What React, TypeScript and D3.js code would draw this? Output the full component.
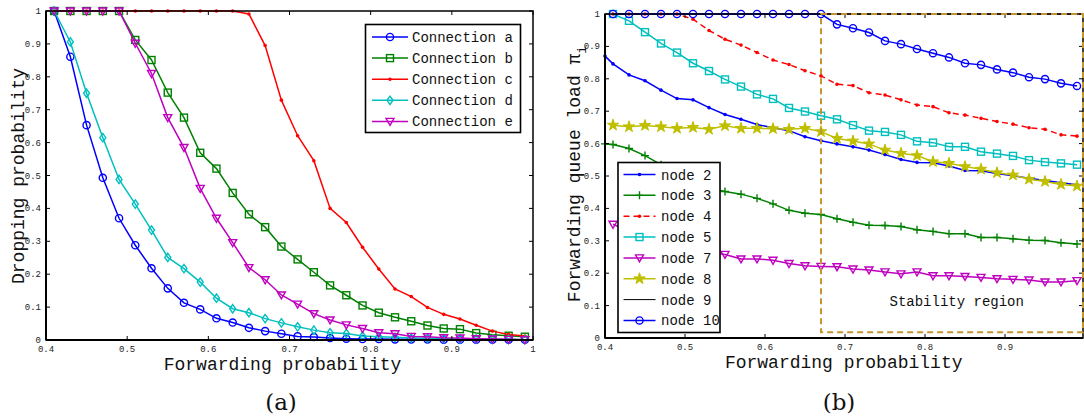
import React from "react";
import * as d3 from "d3";

// ---------- Data: chart (a) ----------
const xsA = [0.41, 0.43, 0.45, 0.47, 0.49, 0.51, 0.53, 0.55, 0.57, 0.59, 0.61, 0.63, 0.65, 0.67, 0.69, 0.71, 0.73, 0.75, 0.77, 0.79, 0.81, 0.83, 0.85, 0.87, 0.89, 0.91, 0.93, 0.95, 0.97, 0.99];
const connA = [1, 0.861, 0.653, 0.493, 0.370, 0.288, 0.218, 0.157, 0.113, 0.093, 0.066, 0.053, 0.037, 0.027, 0.019, 0.011, 0.009, 0.006, 0.004, 0.003, 0.003, 0.002, 0.002, 0.002, 0.001, 0.001, 0.001, 0.001, 0.001, 0.001];
const connB = [1, 1, 1, 1, 1, 0.912, 0.851, 0.752, 0.676, 0.569, 0.521, 0.447, 0.382, 0.343, 0.284, 0.245, 0.206, 0.166, 0.136, 0.105, 0.083, 0.069, 0.057, 0.044, 0.035, 0.033, 0.021, 0.016, 0.013, 0.010];
const connC = [1, 1, 1, 1, 1, 1, 1, 1, 1, 1, 1, 1, 0.991, 0.895, 0.729, 0.621, 0.545, 0.400, 0.357, 0.282, 0.216, 0.155, 0.132, 0.099, 0.078, 0.064, 0.045, 0.027, 0.017, 0.012];
const connD = [1, 0.906, 0.750, 0.615, 0.488, 0.413, 0.334, 0.251, 0.217, 0.176, 0.127, 0.095, 0.083, 0.065, 0.052, 0.040, 0.030, 0.022, 0.020, 0.012, 0.010, 0.008, 0.006, 0.005, 0.004, 0.003, 0.003, 0.002, 0.002, 0.001];
const connE = [1, 1, 1, 1, 1, 0.902, 0.810, 0.676, 0.585, 0.461, 0.370, 0.296, 0.220, 0.183, 0.137, 0.109, 0.080, 0.061, 0.046, 0.035, 0.022, 0.019, 0.011, 0.010, 0.007, 0.006, 0.004, 0.003, 0.002, 0.001];
const ticksXA = [0.4, 0.5, 0.6, 0.7, 0.8, 0.9, 1];
const ticksXALabels = ["0.4", "0.5", "0.6", "0.7", "0.8", "0.9", "1"];
const ticksY = [0, 0.1, 0.2, 0.3, 0.4, 0.5, 0.6, 0.7, 0.8, 0.9, 1];
const ticksYLabels = ["0", "0.1", "0.2", "0.3", "0.4", "0.5", "0.6", "0.7", "0.8", "0.9", "1"];

// ---------- Data: chart (b) ----------
const xsB = [0.41, 0.43, 0.45, 0.47, 0.49, 0.51, 0.53, 0.55, 0.57, 0.59, 0.61, 0.63, 0.65, 0.67, 0.69, 0.71, 0.73, 0.75, 0.77, 0.79, 0.81, 0.83, 0.85, 0.87, 0.89, 0.91, 0.93, 0.95, 0.97, 0.99];
const xsB0 = [0.40, 0.41, 0.43, 0.45, 0.47, 0.49, 0.51, 0.53, 0.55, 0.57, 0.59, 0.61, 0.63, 0.65, 0.67, 0.69, 0.71, 0.73, 0.75, 0.77, 0.79, 0.81, 0.83, 0.85, 0.87, 0.89, 0.91, 0.93, 0.95, 0.97, 0.99];
const node2 = [0.870, 0.846, 0.812, 0.794, 0.765, 0.739, 0.735, 0.711, 0.690, 0.675, 0.659, 0.649, 0.640, 0.621, 0.609, 0.599, 0.590, 0.580, 0.566, 0.551, 0.542, 0.541, 0.531, 0.517, 0.516, 0.508, 0.501, 0.493, 0.486, 0.479, 0.473];
const node3 = [0.599, 0.597, 0.585, 0.563, 0.535, 0.510, 0.480, 0.462, 0.452, 0.444, 0.431, 0.414, 0.394, 0.385, 0.381, 0.368, 0.357, 0.348, 0.347, 0.344, 0.334, 0.329, 0.322, 0.322, 0.310, 0.310, 0.306, 0.302, 0.301, 0.294, 0.290];
const node4 = [1, 1, 1, 1, 1, 0.984, 0.949, 0.922, 0.904, 0.881, 0.858, 0.844, 0.825, 0.809, 0.783, 0.779, 0.757, 0.750, 0.735, 0.719, 0.714, 0.695, 0.688, 0.678, 0.668, 0.660, 0.649, 0.644, 0.627, 0.623];
const node5 = [1.0, 0.979, 0.944, 0.909, 0.881, 0.848, 0.824, 0.798, 0.776, 0.752, 0.738, 0.710, 0.699, 0.686, 0.675, 0.657, 0.640, 0.636, 0.627, 0.607, 0.603, 0.590, 0.590, 0.575, 0.569, 0.562, 0.549, 0.543, 0.539, 0.535];
const node7 = [0.351, 0.330, 0.310, 0.290, 0.280, 0.270, 0.265, 0.258, 0.244, 0.244, 0.240, 0.230, 0.223, 0.221, 0.220, 0.213, 0.210, 0.204, 0.198, 0.204, 0.192, 0.192, 0.190, 0.187, 0.183, 0.181, 0.179, 0.173, 0.173, 0.177];
const node8 = [0.657, 0.652, 0.656, 0.652, 0.647, 0.650, 0.644, 0.655, 0.647, 0.647, 0.646, 0.644, 0.647, 0.637, 0.616, 0.608, 0.599, 0.580, 0.570, 0.563, 0.544, 0.539, 0.529, 0.521, 0.510, 0.503, 0.490, 0.483, 0.474, 0.469];
const node9 = [1, 1, 1, 1, 1, 1, 1, 1, 1, 1, 1, 1, 1, 1, 1, 1, 1, 1, 1, 1, 1, 1, 1, 1, 1, 1, 1, 1, 1, 1];
const node10 = [1, 1, 1, 1, 1, 1, 1, 1, 1, 1, 1, 1, 1, 1, 0.968, 0.956, 0.943, 0.917, 0.907, 0.892, 0.879, 0.866, 0.848, 0.843, 0.829, 0.819, 0.805, 0.799, 0.786, 0.778];
const ticksXB = [0.4, 0.5, 0.6, 0.7, 0.8, 0.9];
const ticksXBLabels = ["0.4", "0.5", "0.6", "0.7", "0.8", "0.9"];
const stabilityX = [0.67, 0.9975];
const stabilityY = [0.018, 1];

const MONO = "'Liberation Mono', 'DejaVu Sans Mono', monospace";
const C = {
  blue: "#0000ff",
  green: "#008000",
  red: "#ff0000",
  cyan: "#00bfbf",
  magenta: "#bf00bf",
  yellow: "#bfbf00",
  black: "#000000",
  gold: "#c4952e",
};

type MarkerType = "circle" | "square" | "dot" | "diamond" | "tri" | "plus" | "star" | "none";

function Marker({ type, x, y, color }: { type: MarkerType; x: number; y: number; color: string }) {
  const sw = 1.4;
  switch (type) {
    case "circle":
      return <circle cx={x} cy={y} r={3.6} fill="none" stroke={color} strokeWidth={sw} />;
    case "square":
      return <rect x={x - 3.5} y={y - 3.5} width={7} height={7} fill="none" stroke={color} strokeWidth={sw} />;
    case "dot":
      return <circle cx={x} cy={y} r={1.8} fill={color} stroke="none" />;
    case "diamond":
      return <path d={`M${x},${y - 4.2}L${x + 3},${y}L${x},${y + 4.2}L${x - 3},${y}Z`} fill="none" stroke={color} strokeWidth={sw} />;
    case "tri":
      return <path d={`M${x - 4},${y - 3}L${x + 4},${y - 3}L${x},${y + 4}Z`} fill="none" stroke={color} strokeWidth={sw} />;
    case "plus":
      return <path d={`M${x - 4},${y}L${x + 4},${y}M${x},${y - 4}L${x},${y + 4}`} stroke={color} strokeWidth={sw} />;
    case "star": {
      const p = d3.symbol().type(d3.symbolStar).size(40)();
      return <path d={p || ""} transform={`translate(${x},${y})`} fill={color} stroke={color} strokeWidth={1} />;
    }
    default:
      return null;
  }
}

interface Series {
  name: string;
  xs: number[];
  ys: number[];
  color: string;
  marker: MarkerType;
  dash?: string;
  width?: number;
}

const seriesA: Series[] = [
  { name: "Connection a", xs: xsA, ys: connA, color: C.blue, marker: "circle" },
  { name: "Connection b", xs: xsA, ys: connB, color: C.green, marker: "square" },
  { name: "Connection c", xs: xsA, ys: connC, color: C.red, marker: "dot" },
  { name: "Connection d", xs: xsA, ys: connD, color: C.cyan, marker: "diamond" },
  { name: "Connection e", xs: xsA, ys: connE, color: C.magenta, marker: "tri" },
];

const seriesB: Series[] = [
  { name: "node 2", xs: xsB0, ys: node2, color: C.blue, marker: "dot" },
  { name: "node 3", xs: xsB0, ys: node3, color: C.green, marker: "plus" },
  { name: "node 4", xs: xsB, ys: node4, color: C.red, marker: "dot", dash: "6,4" },
  { name: "node 5", xs: xsB, ys: node5, color: C.cyan, marker: "square" },
  { name: "node 7", xs: xsB, ys: node7, color: C.magenta, marker: "tri" },
  { name: "node 8", xs: xsB, ys: node8, color: C.yellow, marker: "star" },
  { name: "node 9", xs: xsB, ys: node9, color: C.black, marker: "none", width: 1 },
  { name: "node 10", xs: xsB, ys: node10, color: C.blue, marker: "circle" },
];

function Frame({
  x,
  y,
  xTicks,
  xLabels,
  xLabelY,
  yLabelX,
}: {
  x: d3.ScaleLinear<number, number>;
  y: d3.ScaleLinear<number, number>;
  xTicks: number[];
  xLabels: string[];
  xLabelY: number;
  yLabelX: number;
}) {
  const [x0, x1] = x.range();
  const [y0, y1] = y.range();
  const tl = 4;
  return (
    <g>
      {xTicks.map((t, i) => (
        <g key={"xt" + i}>
          <line x1={x(t)} x2={x(t)} y1={y0} y2={y0 - tl} stroke="#000" strokeWidth={1} />
          <line x1={x(t)} x2={x(t)} y1={y1} y2={y1 + tl} stroke="#000" strokeWidth={1} />
          <text x={x(t)} y={xLabelY} textAnchor="middle" fontFamily={MONO} fontSize={9} fill="#222">
            {xLabels[i]}
          </text>
        </g>
      ))}
      {ticksY.map((t, i) => (
        <g key={"yt" + i}>
          <line x1={x0} x2={x0 + tl} y1={y(t)} y2={y(t)} stroke="#000" strokeWidth={1} />
          <line x1={x1} x2={x1 - tl} y1={y(t)} y2={y(t)} stroke="#000" strokeWidth={1} />
          <text x={yLabelX} y={y(t) + 3} textAnchor="end" fontFamily={MONO} fontSize={9} fill="#222">
            {ticksYLabels[i]}
          </text>
        </g>
      ))}
      <rect x={x0} y={y1} width={x1 - x0} height={y0 - y1} fill="none" stroke="#000" strokeWidth={1.5} />
      <line x1={x0} x2={x1} y1={y0} y2={y0} stroke="#000" strokeWidth={2} />
      <line x1={x0} x2={x0} y1={y0} y2={y1} stroke="#000" strokeWidth={2} />
    </g>
  );
}

function Lines({ series, x, y }: { series: Series[]; x: d3.ScaleLinear<number, number>; y: d3.ScaleLinear<number, number> }) {
  const gen = d3
    .line<[number, number]>()
    .x((d) => x(d[0]))
    .y((d) => y(d[1]));
  return (
    <g>
      {series.map((s) => {
        const pts: [number, number][] = s.xs.map((v, i) => [v, s.ys[i]]);
        return (
          <g key={s.name}>
            <path d={gen(pts) || ""} fill="none" stroke={s.color} strokeWidth={s.width ?? 1.5} strokeDasharray={s.dash} />
            {pts.map((p, i) => (
              <Marker key={i} type={s.marker} x={x(p[0])} y={y(p[1])} color={s.color} />
            ))}
          </g>
        );
      })}
    </g>
  );
}

function Legend({
  series,
  box,
  y0,
  step,
  lineX,
  textX,
}: {
  series: Series[];
  box: [number, number, number, number];
  y0: number;
  step: number;
  lineX: [number, number];
  textX: number;
}) {
  return (
    <g>
      <rect x={box[0]} y={box[1]} width={box[2]} height={box[3]} fill="#fff" stroke="#000" strokeWidth={1.6} />
      {series.map((s, i) => {
        const yy = y0 + i * step;
        const mx = (lineX[0] + lineX[1]) / 2;
        return (
          <g key={s.name}>
            <line x1={lineX[0]} x2={lineX[1]} y1={yy} y2={yy} stroke={s.color} strokeWidth={s.width ?? 1.5} strokeDasharray={s.dash} />
            <Marker type={s.marker} x={mx} y={yy} color={s.color} />
            <text x={textX} y={yy + 5} fontFamily={MONO} fontSize={14} fill="#111">
              {s.name}
            </text>
          </g>
        );
      })}
    </g>
  );
}

export default function App() {
  const xA = d3.scaleLinear().domain([0.4, 1]).range([46, 533]);
  const yA = d3.scaleLinear().domain([0, 1]).range([340, 11]);
  const xB = d3.scaleLinear().domain([0.4, 0.9975]).range([605, 1083]);
  const yB = d3.scaleLinear().domain([0, 1]).range([338, 14]);

  return (
    <svg width={1084} height={419} style={{ position: "absolute", left: 0, top: 0, background: "#fff" }}>
      <rect x={0} y={0} width={1084} height={419} fill="#fff" />
      {/* Chart (a) */}
      <Lines series={seriesA} x={xA} y={yA} />
      <Frame x={xA} y={yA} xTicks={ticksXA} xLabels={ticksXALabels} xLabelY={351.5} yLabelX={41} />
      <Legend series={seriesA} box={[365.5, 24.5, 155, 108]} y0={37} step={21.1} lineX={[372, 408]} textX={412} />
      <text x={282.5} y={369.5} textAnchor="middle" fontFamily={MONO} fontSize={18} fill="#111">
        Forwarding probability
      </text>
      <text transform={`translate(24,176) rotate(-90)`} textAnchor="middle" fontFamily={MONO} fontSize={18} fill="#111">
        Dropping probability
      </text>
      <text x={281} y={410} textAnchor="middle" fontFamily="'DejaVu Serif', serif" fontSize={23} fill="#111">
        (a)
      </text>

      {/* Chart (b) */}
      <Lines series={seriesB} x={xB} y={yB} />
      <Frame x={xB} y={yB} xTicks={ticksXB} xLabels={ticksXBLabels} xLabelY={349.5} yLabelX={600} />
      <rect
        x={xB(stabilityX[0])}
        y={yB(stabilityY[1])}
        width={xB(stabilityX[1]) - xB(stabilityX[0])}
        height={yB(stabilityY[0]) - yB(stabilityY[1])}
        fill="none"
        stroke={C.gold}
        strokeWidth={2}
        strokeDasharray="6,4"
      />
      <text x={956.7} y={306} textAnchor="middle" fontFamily={MONO} fontSize={14} fill="#111">
        Stability region
      </text>
      <Legend series={seriesB} box={[618, 162.5, 102, 170]} y0={174.5} step={20.85} lineX={[623.5, 655.5]} textX={661} />
      <text x={843.7} y={367.5} textAnchor="middle" fontFamily={MONO} fontSize={18} fill="#111">
        Forwarding probability
      </text>
      <text transform={`translate(580,174) rotate(-90)`} textAnchor="middle" fontFamily={MONO} fontSize={18} fill="#111">
        Forwarding queue load π
        <tspan dy={6} fontSize={13}>i</tspan>
      </text>
      <text x={839} y={410} textAnchor="middle" fontFamily="'DejaVu Serif', serif" fontSize={23} fill="#111">
        (b)
      </text>
    </svg>
  );
}
